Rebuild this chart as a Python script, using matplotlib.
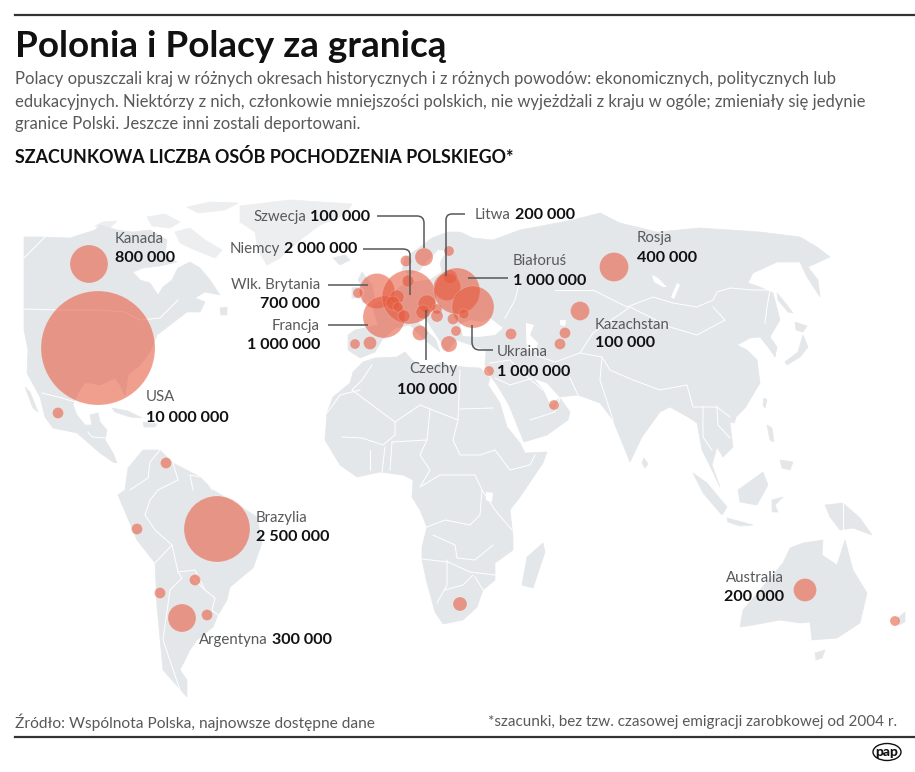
import matplotlib
matplotlib.use("Agg")
import matplotlib.pyplot as plt
from matplotlib.patches import Polygon, Circle, PathPatch, Ellipse
from matplotlib.path import Path

plt.rcParams['font.family'] = ['Lato', 'DejaVu Sans']

LAND = '#e4e7ea'
LAND_FAINT = '#eceef0'
GREY = '#58595b'
BLACK = '#111111'
RULE = '#333333'

TITLE = 'Polonia i Polacy za granicą'
INTRO = ['Polacy opuszczali kraj w różnych okresach historycznych i z różnych powodów: ekonomicznych, politycznych lub',
         'edukacyjnych. Niektórzy z nich, członkowie mniejszości polskich, nie wyjeżdżali z kraju w ogóle; zmieniały się jedynie',
         'granice Polski. Jeszcze inni zostali deportowani.']
HEADING = 'SZACUNKOWA LICZBA OSÓB POCHODZENIA POLSKIEGO*'
SOURCE = 'Źródło: Wspólnota Polska, najnowsze dostępne dane'
NOTE = '*szacunki, bez tzw. czasowej emigracji zarobkowej od 2004 r.'

# --- background map outlines ---
north_america = [(24,237),(40,237),(70,238),(95,230),(100,225),(117,230),(133,232),(150,230),(167,240),(165,255),(177,262),
                 (160,266),(143,268),(133,272),(140,280),(150,283),(158,295),(163,287),(172,280),(178,268),(190,262),(200,268),
                 (210,280),(220,295),(205,292),(195,298),(205,302),(200,312),(187,312),(170,325),(157,335),(150,352),(140,365),
                 (128,375),(125,395),(120,385),(115,378),(100,385),(85,382),(77,395),(73,405),(77,415),(85,425),(92,425),(90,415),
                 (98,413),(100,422),(107,430),(105,440),(113,453),(117,463),(113,462),(100,453),(77,433),(53,428),(45,417),(40,397),
                 (27,373),(28,350),(24,330)]
south_america = [(160,450),(143,450),(128,468),(125,490),(118,495),(137,540),(155,563),(157,607),(163,670),(187,697),(187,680),
                 (180,670),(190,650),(197,640),(213,627),(218,615),(227,600),(230,587),(253,568),(262,543),(257,517),(238,505),
                 (213,490),(200,477),(173,463)]
africa = [(353,372),(363,362),(375,358),(397,357),(405,352),(412,360),(425,368),(443,362),(448,366),(480,368),(490,378),(488,385),
          (500,403),(507,427),(520,443),(525,453),(547,452),(543,463),(520,497),(510,510),(513,537),(513,550),(495,563),(495,580),
          (483,590),(477,607),(463,620),(443,624),(435,612),(427,583),(422,560),(422,547),(427,527),(420,510),(412,497),(413,480),
          (403,475),(380,472),(357,477),(340,465),(325,440),(327,413),(333,397),(350,383)]
eurasia = [(491,377),(497,385),(509,405),(519,430),(524,442),(547,435),(568,420),(570,412),(560,398),(550,405),(543,390),(533,378),(547,383),
           (560,397),(578,395),(600,403),(613,420),(630,462),(642,437),(660,412),(670,407),(688,417),(697,423),(702,450),(712,470),
           (720,487),(712,465),(717,447),(723,457),(733,447),(730,423),(745,408),(760,383),(757,360),(747,350),(737,345),(750,338),
           (760,337),(768,347),(775,357),(777,347),(770,337),(780,320),(773,293),(760,287),(748,283),(753,273),(777,262),(800,262),
           (807,277),(820,297),(818,280),(808,267),(830,257),(817,247),(800,237),(760,232),(700,228),(657,232),(620,223),(600,213),
           (573,220),(520,230),(493,240),(473,238),(460,232),(448,232),(432,238),(420,247),(405,258),(402,270),(410,274),(420,270),
           (426,262),(438,250),(448,250),(440,262),(442,272),(430,280),(412,282),(408,272),(403,285),(393,293),(380,302),(372,305),
           (378,325),(355,330),(348,335),(348,350),(360,358),(375,352),(382,340),(395,328),(410,325),(425,340),(440,352),(436,340),
           (418,322),(424,316),(447,352),(452,345),(456,340),(486,350),(485,365)]
greenland = [(240,206),(290,200),(352,204),(345,215),(320,225),(300,240),(280,258),(267,265),(258,250),(255,232),(240,222)]
baffin = [(175,232),(190,228),(205,240),(222,250),(215,258),(195,250),(180,243)]
arctic_a = [(187,207),(210,202),(238,203),(225,210),(198,213)]
arctic_b = [(147,217),(165,214),(180,222),(170,228),(152,226)]
arctic_c = [(95,226),(103,222),(117,221),(110,228)]
newfoundland = [(220,308),(227,307),(227,315),(221,315)]
britain = [(362,272),(372,285),(375,300),(362,303),(365,290),(358,280)]
ireland = [(352,288),(360,287),(360,298),(352,298)]
iceland = [(333,258),(345,255),(350,260),(340,265)]
cuba = [(112,408),(128,411),(142,418),(130,417),(115,412)]
hispaniola = [(143,422),(157,424),(155,427),(144,427)]
baja = [(25,387),(30,392),(38,412),(33,408)]
madagascar = [(543,543),(545,552),(533,588),(522,585),(527,557)]
sri_lanka = [(644,458),(648,464),(645,468),(642,463)]
sumatra = [(693,473),(707,483),(727,507),(722,515),(703,493)]
java = [(727,518),(753,525),(740,526),(728,522)]
borneo = [(738,490),(763,472),(768,485),(757,505),(740,502)]
sulawesi = [(772,500),(783,497),(775,505),(778,512),(772,512)]
new_guinea = [(825,505),(843,503),(860,518),(872,535),(853,528),(840,530),(830,517)]
philippines_a = [(767,425),(772,428),(774,442),(770,440)]
philippines_b = [(780,460),(793,462),(790,470),(782,468)]
taiwan = [(764,398),(767,400),(765,408),(763,405)]
hainan = [(731,418),(736,418),(734,423),(731,422)]
hokkaido = [(795,322),(807,326),(803,332),(796,330)]
honshu = [(803,335),(808,347),(800,357),(787,365),(785,362),(798,352)]
sakhalin = [(777,293),(783,300),(793,313),(788,312),(778,300)]
australia = [(740,627),(743,610),(783,563),(790,548),(803,543),(823,540),(822,555),(837,565),(845,540),(853,570),(867,593),
             (860,623),(837,638),(812,640),(810,622),(800,623),(780,620),(753,625)]
tasmania = [(815,653),(825,650),(822,658),(816,660)]
new_zealand = [(898,618),(905,612),(905,622),(899,625)]
land_shapes = [north_america, south_america, africa, eurasia, newfoundland,
               britain, ireland, iceland, cuba, hispaniola, baja, madagascar, sri_lanka, sumatra, java, borneo, sulawesi,
               new_guinea, philippines_a, philippines_b, taiwan, hainan, hokkaido, honshu, sakhalin, australia, tasmania,
               new_zealand]
faint_shapes = [greenland, baffin, arctic_a, arctic_b, arctic_c]

black_sea = [(460,324),(470,320),(482,322),(490,318),(503,328),(495,335),(478,337),(463,336)]
caspian = [(526,323),(534,325),(530,335),(538,343),(536,351),(527,349),(526,336)]
aral = [(560,320),(566,320),(565,326),(560,325)]
baikal = [(652,275),(658,278),(667,287),(663,287),(654,282)]
baikal_b = [(677,283),(680,285),(674,299),(671,297)]
victoria = [(486,492),(493,493),(492,502),(486,500)]
water_shapes = [black_sea, caspian, aral, baikal, baikal_b, victoria]

borders = [
    [(24,309),(60,310),(100,310),(125,312),(140,320),(160,318),(178,300)],
    [(24,258),(45,237)],
    [(42,393),(62,398),(75,402)],
    [(88,432),(92,437),(105,438)],
    [(160,450),(150,462),(148,478),(130,490)],
    [(173,463),(178,480),(158,490),(150,500),(145,515),(155,530),(172,545),(178,572),(195,570),(205,590),(215,598),(212,610),(218,615)],
    [(200,477),(190,475),(193,490)],
    [(212,490),(205,477)],
    [(172,545),(155,563)],
    [(178,572),(182,578),(170,590),(163,640),(180,690)],
    [(193,578),(205,590)],
    [(372,365),(362,380),(352,390),(395,422),(420,405),(458,420),(460,370)],
    [(460,409),(493,408)],
    [(458,420),(453,440),(460,455),(480,455),(495,450),(510,470),(530,465),(535,455)],
    [(430,410),(427,440),(420,455),(430,470),(420,487),(440,475),(475,475),(482,490),(495,510),(512,530)],
    [(395,422),(395,435),(383,445),(362,438),(342,437)],
    [(327,413),(340,395),(360,390)],
    [(427,440),(392,442),(390,470)],
    [(370,450),(370,470)],
    [(385,447),(382,472)],
    [(427,527),(445,520),(470,525),(480,515),(482,490)],
    [(433,535),(455,545),(457,558),(475,560),(493,545)],
    [(422,559),(448,562),(470,572),(495,575)],
    [(447,560),(447,585),(437,603)],
    [(473,575),(463,585),(445,590)],
    [(483,590),(475,577)],
    [(593,290),(627,307),(653,297),(673,303),(697,307),(713,300),(717,292),(730,288),(753,290),(770,290),(767,307),(765,323)],
    [(713,307),(725,320),(697,335),(670,327),(630,307),(593,333),(580,353),(602,357),(610,370),(633,380),(660,390),(687,385),(693,407),(703,407),(717,407),(730,417)],
    [(555,290),(593,290)],
    [(520,280),(515,300),(505,318)],
    [(580,353),(555,362),(535,355)],
    [(570,378),(578,395)],
    [(602,357),(600,380),(613,420)],
    [(543,390),(525,375),(510,360),(490,363)],
    [(533,378),(510,385),(495,378)],
    [(530,420),(555,412),(560,398)],
    [(703,407),(703,437),(712,450)],
    [(717,407),(718,425),(730,438)],
    [(843,503),(843,530)],
    [(440,262),(438,250)],
]

# --- bubbles: name, centre and radius ---
bubble_names = ['USA','Kanada','Meksyk','Wenezuela','Brazylia','Peru','Paragwaj','Chile','Argentyna','Urugwaj',
                'Szwecja','Finlandia','Norwegia','Wlk. Brytania','Irlandia','Francja','Niemcy','Dania','Holandia','Belgia',
                'Luksemburg','Szwajcaria','Czechy','Austria','Słowacja','Węgry','Włochy','Grecja','Hiszpania','Portugalia',
                'Litwa','Łotwa','Białoruś','Ukraina','Mołdawia','Rumunia','Bułgaria','Turcja','Azerbejdżan','Armenia',
                'Kazachstan','Izrael','ZEA','Rosja','RPA','Australia','Nowa Zelandia']
bubble_x = [98,89,58,166,217,137,195,160,182,207,424,449,406,377,358,384,409,408,397,393,398,404,427,423,437,437,420,449,370,355,
            447,450,457,473,464,453,456,511,565,560,580,489,554,614,460,805,895]
bubble_y = [348,264,413,463,529,529,580,593,618,615,257,251,261,291,293,317,297,281,297,303,307,316,304,312,309,316,333,344,343,344,
            287,277,291,307,314,319,331,334,333,344,311,371,405,267,604,590,621]
bubble_r = [57,19,5.5,5.5,33,5.5,5.5,5.5,14,5.5,9,5,5.5,17.5,5,21,27,6,7,7,5,6,9,7,5,6,7.5,8,6.5,5,
            13.5,7,23,21,5,5.5,5,5.5,5.5,5.5,9.5,5,5,14.5,7,11.5,5]

# --- leader lines ---
leaders = [
    [(377,216),(417,216),(424,216),(424,223),(424,248)],
    [(363,249),(403,249),(410,249),(410,255),(410,295)],
    [(465,214),(452,214),(446,214),(446,220),(446,276)],
    [(328,285),(368,285)],
    [(328,325),(368,325)],
    [(426,310),(426,360)],
    [(472,325),(472,342),(472,350),(480,350),(493,350)],
    [(468,278),(508,278)],
]

# --- labels ---
stacked_left = [('Kanada','800 000',115,239,258),('USA','10 000 000',146,397,418),('Rosja','400 000',637,238,258),
                ('Kazachstan','100 000',595,325,343),('Brazylia','2 500 000',256,518,537),
                ('Ukraina','1 000 000',497,352,372),('Białoruś','1 000 000',513,261,281)]
stacked_right = [('Wlk. Brytania','700 000',320,285,304),('Francja','1 000 000',320,326,345),
                 ('Czechy','100 000',457,369,390),('Australia','200 000',784,578,597)]
inline_right = [('Szwecja','100 000',370,217),('Niemcy','2 000 000',357,249)]
inline_left = [('Litwa','200 000',475,215),('Argentyna','300 000',199,640)]

NAME_FS = 10.8
VALUE_FS = 11.6

fig = plt.figure(figsize=(9.15, 7.72), dpi=100)
ax = fig.add_axes([0, 0, 1, 1])
ax.set_xlim(0, 915)
ax.set_ylim(772, 0)
ax.axis('off')

for shape in faint_shapes:
    ax.add_patch(Polygon(shape, closed=True, facecolor=LAND_FAINT, edgecolor=LAND_FAINT, lw=0.5, joinstyle='round', zorder=1))
for shape in land_shapes:
    ax.add_patch(Polygon(shape, closed=True, facecolor=LAND, edgecolor=LAND, lw=0.5, joinstyle='round', zorder=1))
for shape in water_shapes:
    ax.add_patch(Polygon(shape, closed=True, facecolor='white', edgecolor='none', zorder=2))
for line in borders:
    ax.plot(*zip(*line), color='white', lw=0.7, solid_joinstyle='round', zorder=3)

for x, y, r in zip(bubble_x, bubble_y, bubble_r):
    ax.add_patch(Circle((x, y), r, facecolor=(0.90, 0.35, 0.24, 0.58), edgecolor=(1, 1, 1, 0.2), lw=0.6, zorder=4))

for pts in leaders:
    if len(pts) == 2:
        codes = [Path.MOVETO, Path.LINETO]
    else:
        codes = [Path.MOVETO, Path.LINETO, Path.CURVE3, Path.CURVE3, Path.LINETO]
    ax.add_patch(PathPatch(Path(pts, codes), fill=False, edgecolor='#55585a', lw=1.1, zorder=5))

ax.plot([15, 915], [15, 15], color=RULE, lw=1.6, zorder=6)
ax.plot([15, 915], [737, 737], color=RULE, lw=1.6, zorder=6)

ax.text(15, 46.5, TITLE, fontsize=26.6, fontweight='bold', color=BLACK, va='center', ha='left')
for txt, y in zip(INTRO, [79, 102, 124]):
    ax.text(15, y, txt, fontsize=12.0, color=GREY, va='center', ha='left')
ax.text(15, 157, HEADING, fontsize=12.85, fontweight='bold', color=BLACK, va='center', ha='left')
ax.text(15, 722, SOURCE, fontsize=11.15, color=GREY, va='center', ha='left')
ax.text(897, 722, NOTE, fontsize=11.0, color=GREY, va='center', ha='right')

ax.add_patch(Ellipse((887, 752), 28, 17, facecolor='white', edgecolor=BLACK, lw=1.0, zorder=6))
ax.text(887, 751.5, 'pap', fontsize=10, fontweight='black', color=BLACK, va='center', ha='center', zorder=7)

def name_text(x, y, s, ha):
    return ax.text(x, y, s, fontsize=NAME_FS, color=GREY, va='center', ha=ha, zorder=7)

def value_text(x, y, s, ha):
    return ax.text(x, y, s, fontsize=VALUE_FS, fontweight='bold', color=BLACK, va='center', ha=ha, zorder=7)

for n, v, x, y1, y2 in stacked_left:
    name_text(x, y1, n, 'left')
    value_text(x, y2, v, 'left')
for n, v, x, y1, y2 in stacked_right:
    name_text(x, y1, n, 'right')
    value_text(x, y2, v, 'right')

renderer = fig.canvas.get_renderer()
for n, v, x, y in inline_right:
    t = value_text(x, y, v, 'right')
    w = t.get_window_extent(renderer).width
    name_text(x - w - 4, y, n, 'right')
for n, v, x, y in inline_left:
    t = name_text(x, y, n, 'left')
    w = t.get_window_extent(renderer).width
    value_text(x + w + 4, y, v, 'left')

fig.savefig('out.png', dpi=100, facecolor='white')
